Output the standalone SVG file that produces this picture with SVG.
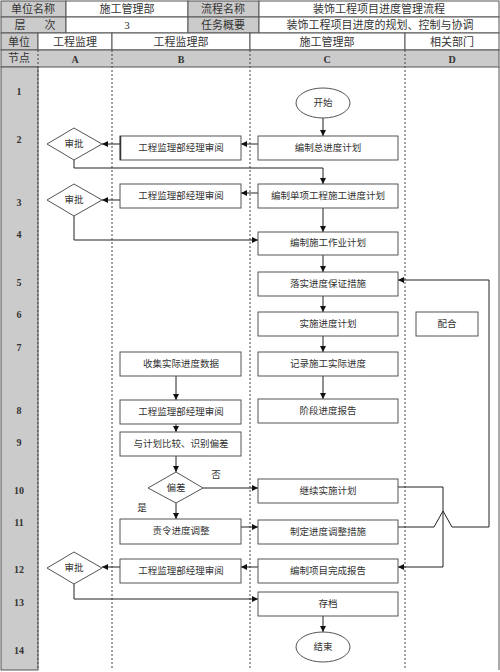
<svg xmlns="http://www.w3.org/2000/svg" width="500" height="672" viewBox="0 0 500 672">
<defs>
<marker id="ah" viewBox="0 0 10 10" refX="10" refY="5" markerWidth="6" markerHeight="6" orient="auto" markerUnits="userSpaceOnUse">
<path d="M0,0 L10,5 L0,10 Z" fill="#111"/>
</marker>
<style>
text{font-family:"Liberation Serif","Noto Sans CJK SC",serif;fill:#333;text-anchor:middle;dominant-baseline:central}
.h{font-size:11px}
.t{font-size:9.5px}
.n{font-size:10px;font-weight:bold}
.g{fill:#cbcbcb;stroke:#555;stroke-width:1}
.w{fill:#fff;stroke:#555;stroke-width:1}
.box{fill:#fff;stroke:#555;stroke-width:1}
.dash{stroke:#444;stroke-width:1;stroke-dasharray:2,2;fill:none}
.c{stroke:#222;stroke-width:1;fill:none}
.ca{stroke:#222;stroke-width:1;fill:none;marker-end:url(#ah)}
</style>
</defs>
<rect x="0" y="0" width="500" height="672" fill="#fff"/>
<g id="header">
<rect class="g" x="1" y="1" width="65" height="16"/>
<rect class="w" x="66" y="1" width="122" height="16"/>
<rect class="g" x="188" y="1" width="71" height="16"/>
<rect class="w" x="259" y="1" width="240" height="16"/>
<rect class="g" x="1" y="17" width="65" height="16"/>
<rect class="w" x="66" y="17" width="122" height="16"/>
<rect class="g" x="188" y="17" width="71" height="16"/>
<rect class="w" x="259" y="17" width="240" height="16"/>
<rect class="g" x="1" y="33" width="37" height="17"/>
<rect class="w" x="38" y="33" width="74" height="17"/>
<rect class="w" x="112" y="33" width="138" height="17"/>
<rect class="w" x="250" y="33" width="155" height="17"/>
<rect class="w" x="405" y="33" width="94" height="17"/>
<rect class="g" x="1" y="50" width="498" height="17"/>
<text class="h" x="33" y="9">单位名称</text>
<text class="h" x="127" y="9">施工管理部</text>
<text class="h" x="223" y="9">流程名称</text>
<text class="h" x="379" y="9">装饰工程项目进度管理流程</text>
<text class="h" x="20" y="25">层</text>
<text class="h" x="50" y="25">次</text>
<text class="h" x="127" y="25">3</text>
<text class="h" x="223" y="25">任务概要</text>
<text class="h" x="380" y="25">装饰工程项目进度的规划、控制与协调</text>
<text class="h" x="19" y="42">单位</text>
<text class="h" x="75" y="42">工程监理</text>
<text class="h" x="181" y="42">工程监理部</text>
<text class="h" x="327" y="42">施工管理部</text>
<text class="h" x="452" y="42">相关部门</text>
<text class="h" x="19" y="58">节点</text>
<text class="n" x="75" y="59">A</text>
<text class="n" x="181" y="59">B</text>
<text class="n" x="327" y="59">C</text>
<text class="n" x="452" y="59">D</text>
</g>
<g id="frame">
<rect class="g" x="1" y="67" width="37" height="603"/>
<line x1="499" y1="67" x2="499" y2="670" stroke="#555"/>
<line x1="38" y1="670" x2="38" y2="670" stroke="#555"/>
<line class="dash" x1="38" y1="50" x2="38" y2="670"/>
<line class="dash" x1="112" y1="50" x2="112" y2="670"/>
<line class="dash" x1="250" y1="50" x2="250" y2="670"/>
<line class="dash" x1="405" y1="50" x2="405" y2="670"/>
<text class="n" x="19" y="91">1</text>
<text class="n" x="19" y="139">2</text>
<text class="n" x="19" y="202">3</text>
<text class="n" x="19" y="234">4</text>
<text class="n" x="19" y="282">5</text>
<text class="n" x="19" y="314">6</text>
<text class="n" x="19" y="347">7</text>
<text class="n" x="19" y="410">8</text>
<text class="n" x="19" y="442">9</text>
<text class="n" x="19" y="490">10</text>
<text class="n" x="19" y="522">11</text>
<text class="n" x="19" y="569">12</text>
<text class="n" x="19" y="602">13</text>
<text class="n" x="19" y="650">14</text>
</g>
<g id="connectors">
<line class="ca" x1="323" y1="118" x2="323" y2="136"/>
<line class="ca" x1="258" y1="144" x2="241" y2="144"/>
<line class="ca" x1="120" y1="144" x2="102" y2="144"/>
<polyline class="ca" points="74,160 74,168 323,168 323,184"/>
<line class="ca" x1="258" y1="193" x2="241" y2="193"/>
<line class="ca" x1="120" y1="200" x2="102" y2="200"/>
<polyline class="ca" points="74,216 74,240 258,240"/>
<line class="ca" x1="323" y1="208" x2="323" y2="232"/>
<line class="ca" x1="323" y1="255" x2="323" y2="272"/>
<line class="ca" x1="323" y1="296" x2="323" y2="312"/>
<line class="ca" x1="323" y1="336" x2="323" y2="352"/>
<line class="ca" x1="323" y1="376" x2="323" y2="399"/>
<line class="ca" x1="176" y1="376" x2="176" y2="400"/>
<line class="ca" x1="176" y1="424" x2="176" y2="432"/>
<line class="ca" x1="176" y1="456" x2="176" y2="472"/>
<line class="ca" x1="203" y1="488" x2="258" y2="488"/>
<line class="ca" x1="176" y1="503" x2="176" y2="519"/>
<line class="ca" x1="241" y1="527" x2="258" y2="527"/>
<polyline class="ca" points="398,487 443,487 443,567 398,567"/>
<polyline class="ca" points="398,527 434,527 443,511 452,527 489,527 489,280 398,280"/>
<line class="ca" x1="258" y1="567" x2="241" y2="567"/>
<line class="ca" x1="120" y1="567" x2="102" y2="567"/>
<polyline class="ca" points="74,583 74,599 258,599"/>
<line class="ca" x1="323" y1="616" x2="323" y2="632"/>
<text class="t" x="216" y="475">否</text>
<text class="t" x="142" y="508">是</text>
</g>
<g id="start"><ellipse class="box" cx="323" cy="103" rx="27" ry="15"/><text class="t" x="323" y="103">开始</text></g>
<g id="c1"><rect class="box" x="258" y="136" width="140" height="24"/><text class="t" x="328" y="148">编制总进度计划</text></g>
<g id="b1"><rect class="box" x="120" y="136" width="121" height="24"/><line x1="120.5" y1="136" x2="120.5" y2="160" stroke="#333" stroke-width="1.5"/><text class="t" x="181" y="148">工程监理部经理审阅</text></g>
<g id="a1"><polygon class="box" points="74,128 102,144 74,160 47,144"/><text class="t" x="74" y="144">审批</text></g>
<g id="c2"><rect class="box" x="258" y="184" width="140" height="24"/><text class="t" x="328" y="196">编制单项工程施工进度计划</text></g>
<g id="b2"><rect class="box" x="120" y="184" width="121" height="24"/><text class="t" x="181" y="196">工程监理部经理审阅</text></g>
<g id="a2"><polygon class="box" points="74,184 102,200 74,216 47,200"/><text class="t" x="74" y="200">审批</text></g>
<g id="c3"><rect class="box" x="258" y="232" width="140" height="23" stroke-width="1.4"/><text class="t" x="328" y="243">编制施工作业计划</text></g>
<g id="c4"><rect class="box" x="258" y="272" width="140" height="24"/><text class="t" x="328" y="284">落实进度保证措施</text></g>
<g id="c5"><rect class="box" x="258" y="312" width="140" height="24"/><text class="t" x="328" y="324">实施进度计划</text></g>
<g id="d1"><rect class="box" x="416" y="312" width="62" height="24"/><text class="t" x="447" y="324">配合</text></g>
<g id="c6"><rect class="box" x="258" y="352" width="140" height="24"/><text class="t" x="328" y="364">记录施工实际进度</text></g>
<g id="b3"><rect class="box" x="120" y="352" width="121" height="24"/><text class="t" x="181" y="364">收集实际进度数据</text></g>
<g id="c7"><rect class="box" x="258" y="399" width="140" height="24"/><text class="t" x="328" y="411">阶段进度报告</text></g>
<g id="b4"><rect class="box" x="120" y="400" width="121" height="24"/><text class="t" x="181" y="412">工程监理部经理审阅</text></g>
<g id="b5"><rect class="box" x="120" y="432" width="121" height="24"/><text class="t" x="181" y="444">与计划比较、识别偏差</text></g>
<g id="b6"><polygon class="box" points="176,472 203,488 176,503 148,488"/><text class="t" x="176" y="488">偏差</text></g>
<g id="c8"><rect class="box" x="258" y="479" width="140" height="24"/><text class="t" x="328" y="491">继续实施计划</text></g>
<g id="b7"><rect class="box" x="120" y="519" width="121" height="25" stroke-width="1.4"/><text class="t" x="181" y="531">责令进度调整</text></g>
<g id="c9"><rect class="box" x="258" y="520" width="140" height="24"/><text class="t" x="328" y="532">制定进度调整措施</text></g>
<g id="c10"><rect class="box" x="258" y="559" width="140" height="24"/><text class="t" x="328" y="571">编制项目完成报告</text></g>
<g id="b8"><rect class="box" x="120" y="559" width="121" height="24"/><text class="t" x="181" y="571">工程监理部经理审阅</text></g>
<g id="a3"><polygon class="box" points="74,552 102,568 74,584 47,568"/><text class="t" x="74" y="568">审批</text></g>
<g id="c11"><rect class="box" x="258" y="592" width="140" height="24" stroke-width="1.4"/><text class="t" x="328" y="604">存档</text></g>
<g id="end"><ellipse class="box" cx="323" cy="647" rx="27" ry="15"/><text class="t" x="323" y="647">结束</text></g>
</svg>
